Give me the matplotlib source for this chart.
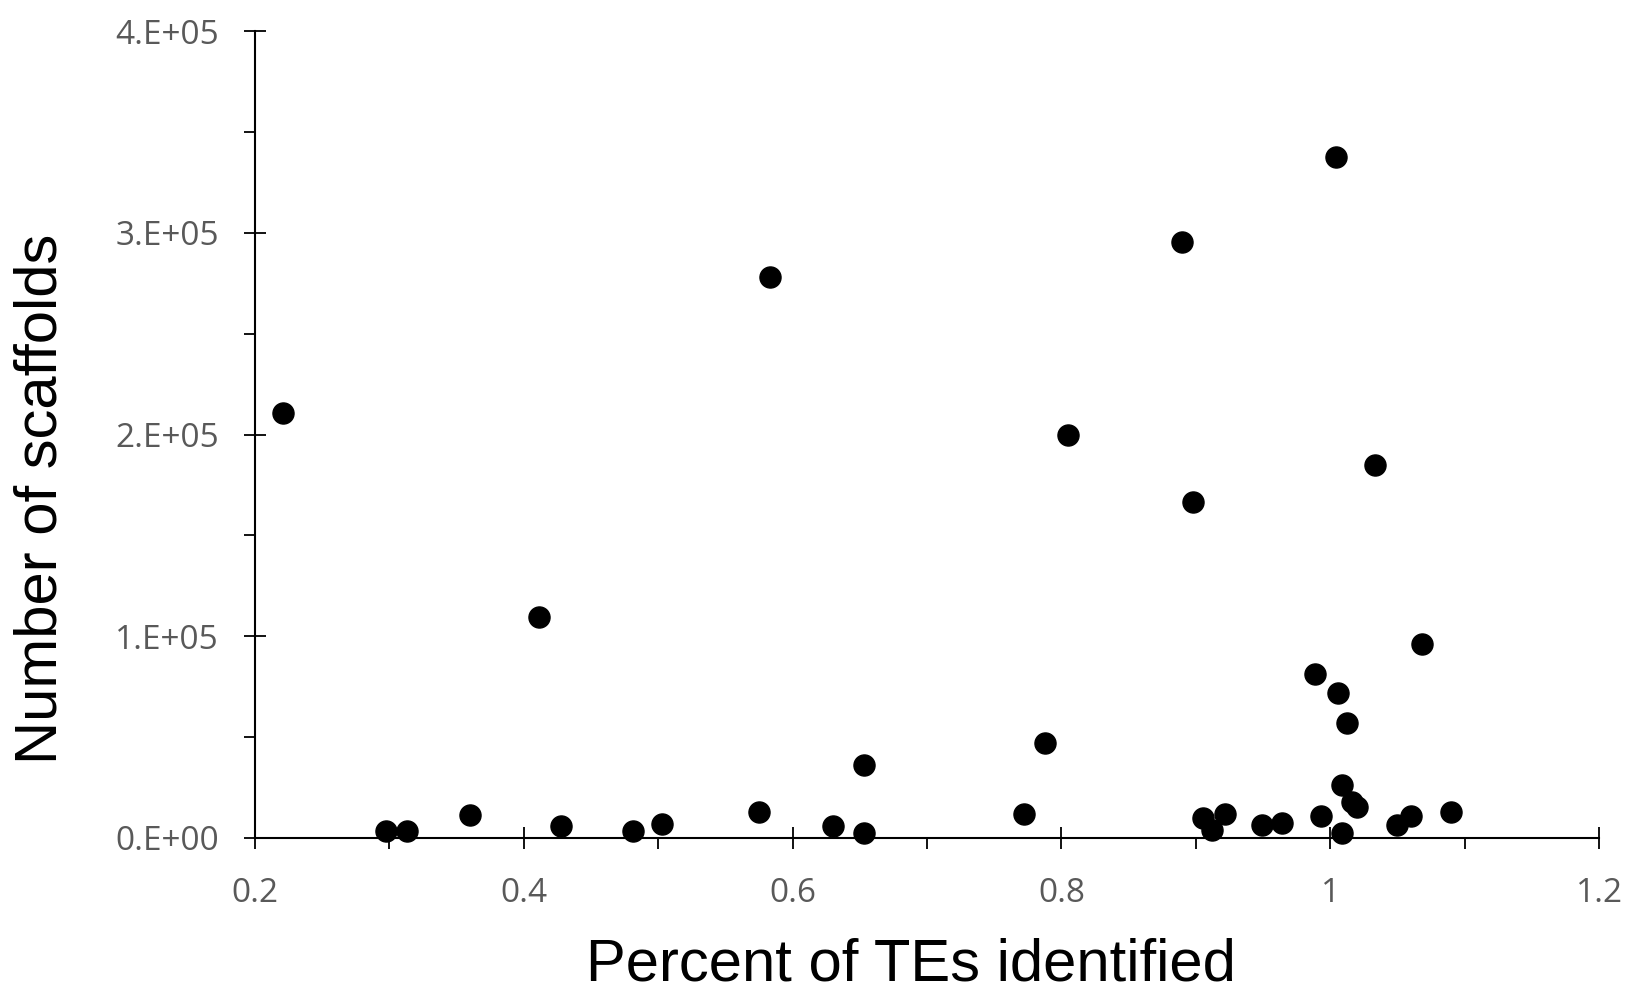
import matplotlib.pyplot as plt
from matplotlib.ticker import MultipleLocator, FuncFormatter

# Dados
pct_tes = [0.221, 0.2975, 0.313, 0.360, 0.411, 0.428, 0.481, 0.503, 0.575, 0.583,
           0.630, 0.653, 0.653, 0.772, 0.788, 0.805, 0.890, 0.898, 0.905, 0.912,
           0.922, 0.949, 0.964, 0.989, 0.993, 1.004, 1.006, 1.009, 1.009, 1.0125,
           1.016, 1.020, 1.033, 1.050, 1.060, 1.068, 1.090]
n_scaffolds = [210800, 3600, 3600, 11300, 109300, 5700, 3600, 6700, 12900, 278000,
               5700, 36100, 2600, 11900, 46900, 200000, 295400, 166500, 9900, 4000,
               11900, 6400, 7400, 81300, 10900, 337600, 71900, 2500, 26300, 57000,
               17800, 15400, 185000, 6400, 10900, 96400, 12900]

fig = plt.figure(figsize=(16.31, 9.91), dpi=100)
ax = fig.add_axes([0.1563, 0.1544, 0.8241, 0.8143])

ax.scatter(pct_tes, n_scaffolds, s=230, color="black", zorder=3, clip_on=False)

ax.set_xlim(0.2, 1.2)
ax.set_ylim(0, 400000)

for s in ["top", "right"]:
    ax.spines[s].set_visible(False)
for s in ["left", "bottom"]:
    ax.spines[s].set_linewidth(1.5)

ax.xaxis.set_major_locator(MultipleLocator(0.2))
ax.xaxis.set_minor_locator(MultipleLocator(0.1))
ax.yaxis.set_major_locator(MultipleLocator(100000))
ax.yaxis.set_minor_locator(MultipleLocator(50000))

ax.xaxis.set_major_formatter(FuncFormatter(lambda v, p: f"{v:g}"))
ax.yaxis.set_major_formatter(FuncFormatter(lambda v, p: f"{v/1e5:.0f}.E+05" if v > 0 else "0.E+00"))

ax.tick_params(axis="both", which="major", direction="inout", length=16, width=1.3,
               labelsize=24, labelcolor="#595959")
ax.tick_params(axis="x", which="major", pad=20)
ax.tick_params(axis="y", which="major", pad=18)
ax.tick_params(axis="both", which="minor", direction="out", length=8, width=1.3)
for lbl in ax.get_xticklabels() + ax.get_yticklabels():
    lbl.set_family("Open Sans")

ax.set_xlabel("Percent of TEs identified", fontsize=43, family="Liberation Sans", va="center")
ax.set_ylabel("Number of scaffolds", fontsize=43, family="Liberation Sans", va="center")
ax.xaxis.set_label_coords(0.488, -0.157)
ax.yaxis.set_label_coords(-0.159, 0.42)

plt.savefig("out.png", dpi=100)
plt.close()
